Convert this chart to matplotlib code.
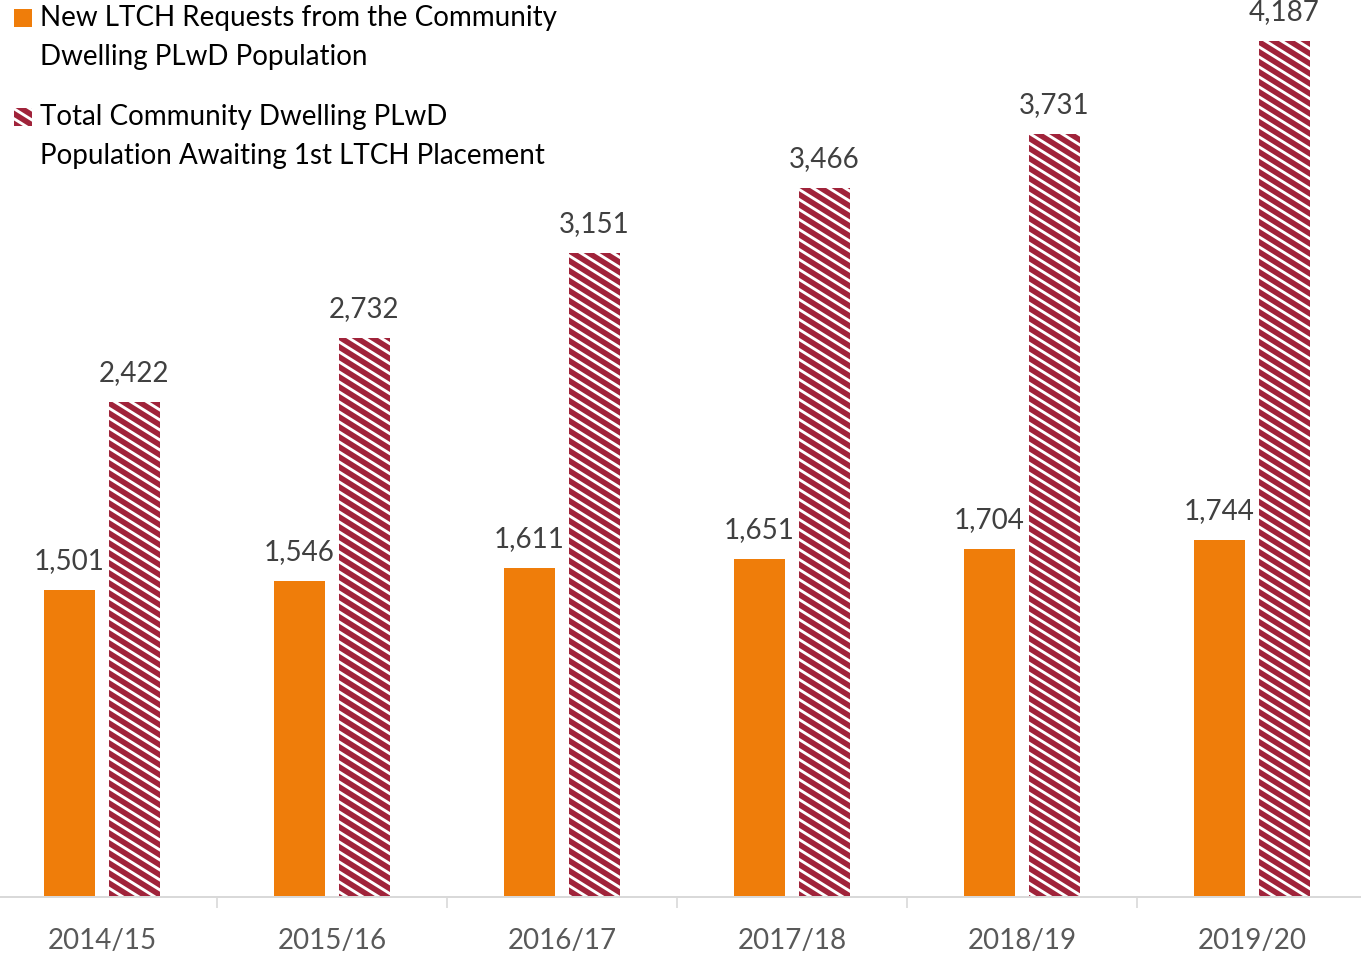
import matplotlib
matplotlib.use("Agg")
import matplotlib.pyplot as plt
from matplotlib import hatch as mhatch
from matplotlib.path import Path
from matplotlib.patches import Rectangle
import numpy as np

# データ
years = ["2014/15", "2015/16", "2016/17", "2017/18", "2018/19", "2019/20"]
new_requests = [1501, 1546, 1611, 1651, 1704, 1744]
total_awaiting = [2422, 2732, 3151, 3466, 3731, 4187]
labels = ["New LTCH Requests from the Community\nDwelling PLwD Population",
          "Total Community Dwelling PLwD\nPopulation Awaiting 1st LTCH Placement"]

orange = "#EF7D0A"
red = "#A0233A"


# 浅い角度の斜線ハッチ("\\" を置き換える)
class ShallowSouthEastHatch(mhatch.HatchPatternBase):
    n_rows = 8   # 単位セルあたりの縦方向の本数
    n_cols = 5   # 単位セルあたりの横方向の本数

    def __init__(self, hatch, density):
        self.on = hatch.count('\\') > 0
        self.ks = np.arange(-self.n_cols - 2, self.n_rows + 2 * self.n_cols + 3)
        self.num_vertices = len(self.ks) * 2 if self.on else 0

    def set_vertices_and_codes(self, vertices, codes):
        s = self.n_cols / self.n_rows
        x0, x1 = -1.0, 2.0
        c = self.ks / self.n_rows
        vertices[0::2, 0] = x0
        vertices[0::2, 1] = c - s * x0
        vertices[1::2, 0] = x1
        vertices[1::2, 1] = c - s * x1
        codes[0::2] = Path.MOVETO
        codes[1::2] = Path.LINETO


mhatch._hatch_types[mhatch._hatch_types.index(mhatch.SouthEastHatch)] = ShallowSouthEastHatch

plt.rcParams['font.family'] = ['Lato', 'DejaVu Sans']
plt.rcParams['hatch.linewidth'] = 2.6
plt.rcParams['hatch.color'] = "white"

DPI = 80
W, H = 1361, 954
fig = plt.figure(figsize=(W / DPI, H / DPI), dpi=DPI)

# 軸の位置(ピクセルで指定)
left_px, right_px = -13, 1367
bottom_px, top_px = 897, 0
ax = fig.add_axes([left_px / W, 1 - bottom_px / H,
                   (right_px - left_px) / W, (bottom_px - top_px) / H])

x = np.arange(len(years))
bw = 0.226
off = 0.1413
b1 = ax.bar(x - off, new_requests, bw, color=orange)
b2 = ax.bar(x + off, total_awaiting, bw, facecolor=red, edgecolor="white",
            linewidth=0, hatch="\\")

# 値ラベル
for bars in (b1, b2):
    for r in bars:
        h = r.get_height()
        ax.annotate(f"{h:,}", (r.get_x() + r.get_width() / 2, h),
                    xytext=(0, 16), textcoords="offset pixels",
                    ha="center", va="bottom", fontsize=25, color="#404040")

ax.set_xlim(-0.5, len(years) - 0.5)
ax.set_ylim(0, 897 / ((897 - 41) / 4187))
ax.set_yticks([])
ax.set_xticks(x)
ax.set_xticklabels(years, fontsize=25, color="#595959")
ax.set_xticks(np.arange(0.5, len(years) - 0.5, 1), minor=True)
ax.tick_params(axis="x", which="major", length=0, pad=28)
ax.tick_params(axis="x", which="minor", length=10, width=1.5, color="#d9d9d9")
for s in ("top", "right", "left"):
    ax.spines[s].set_visible(False)
ax.spines["bottom"].set_color("#d9d9d9")
ax.spines["bottom"].set_linewidth(1.8)

# 凡例(手描き)
def px(xp, yp):
    return xp / W, 1 - yp / H

legend_rows = [(18, dict(facecolor=orange, linewidth=0)),
               (117, dict(facecolor=red, edgecolor="white", linewidth=0, hatch="\\"))]
for (yc, style), lab in zip(legend_rows, labels):
    fig.patches.append(Rectangle(px(14, yc + 9), 18 / W, 18 / H,
                                 transform=fig.transFigure, **style))
    for i, line in enumerate(lab.split("\n")):
        fig.text(*px(40, yc + 39 * i), line, fontsize=25, color="black",
                 ha="left", va="center")

fig.savefig("out.png", dpi=DPI)
